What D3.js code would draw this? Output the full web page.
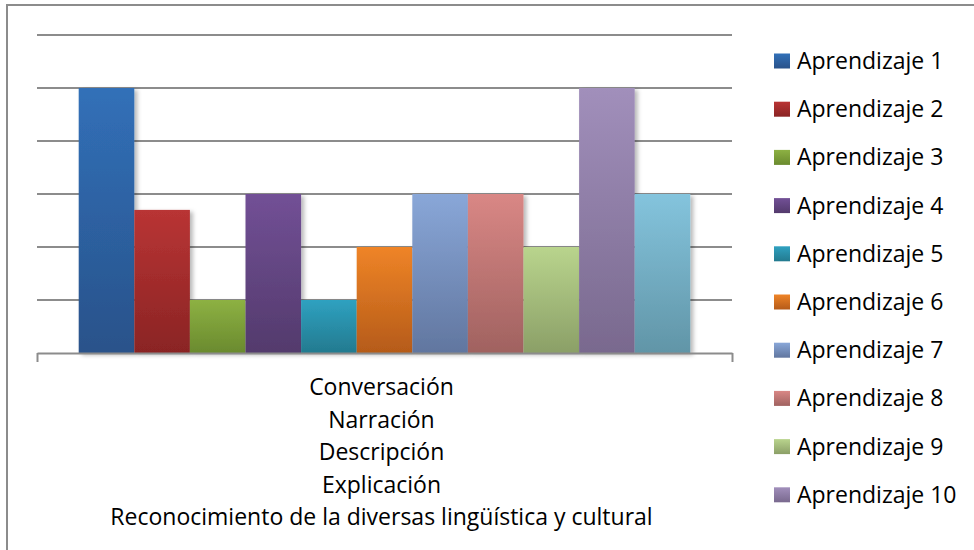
<!DOCTYPE html>
<html>
<head>
<meta charset="utf-8">
<script src="https://cdn.jsdelivr.net/npm/d3@7"></script>
<style>
  html, body { margin: 0; padding: 0; background: #fff; }
  svg text { font-family: "Open Sans", Lato, sans-serif; fill: #000; }
</style>
</head>
<body>
<div id="chart"></div>
<script>
// Category label (one category, text spread over several lines)
const categoryLines = [
    'Conversación',
    'Narración',
    'Descripción',
    'Explicación',
    'Reconocimiento de la diversas lingüística y cultural'
];

const seriesNames = [
    'Aprendizaje 1', 'Aprendizaje 2', 'Aprendizaje 3', 'Aprendizaje 4',
    'Aprendizaje 5', 'Aprendizaje 6', 'Aprendizaje 7', 'Aprendizaje 8',
    'Aprendizaje 9', 'Aprendizaje 10', 'Aprendizaje 11'
];
const seriesValues = [5, 2.7, 1, 3, 1, 2, 3, 3, 2, 5, 3];

// top / bottom colour of each bar gradient
const colorTop = ['#3170b8', '#b93434', '#8db143', '#725096', '#2fa1c0', '#ef8427',
                  '#89a7d8', '#d98785', '#b9d48d', '#a18fbb', '#84c4dd'];
const colorBottom = ['#29528a', '#8a2424', '#6a8a2e', '#533a6c', '#237a8f', '#b55b19',
                     '#61769f', '#a06260', '#8b9f67', '#79698e', '#6195a7'];

const yTicks = [1, 2, 3, 4, 5, 6];
const legendCount = 10; // last entry is cut off in the original

const W = 974, H = 550;
const plot = { left: 37, right: 732, top: 35, bottom: 353 };

const svg = d3.select('#chart').append('svg')
    .attr('width', W)
    .attr('height', H);

const defs = svg.append('defs');

seriesNames.forEach((name, i) => {
    const g = defs.append('linearGradient')
        .attr('id', 'grad' + i)
        .attr('x1', '0%').attr('y1', '0%')
        .attr('x2', '0%').attr('y2', '100%');
    g.append('stop').attr('offset', '0%').attr('stop-color', colorTop[i]);
    g.append('stop').attr('offset', '100%').attr('stop-color', colorBottom[i]);
});

const shadow = defs.append('filter')
    .attr('id', 'shadow')
    .attr('x', '-20%').attr('y', '-20%')
    .attr('width', '150%').attr('height', '150%');
shadow.append('feDropShadow')
    .attr('dx', 3).attr('dy', 2)
    .attr('stdDeviation', 2)
    .attr('flood-color', '#000')
    .attr('flood-opacity', 0.28);

// Outer frame (top and left edges visible)
svg.append('path')
    .attr('d', `M7,${H} L7,5 L${W},5`)
    .attr('fill', 'none')
    .attr('stroke', '#8c8c8c')
    .attr('stroke-width', 2);

const x = d3.scaleBand()
    .domain(seriesNames)
    .range([plot.left, plot.right])
    .paddingInner(0)
    .paddingOuter(0.75);

const y = d3.scaleLinear()
    .domain([0, 6])
    .range([plot.bottom, plot.top]);

// Gridlines
svg.append('g')
    .selectAll('line')
    .data(yTicks)
    .join('line')
    .attr('x1', plot.left)
    .attr('x2', plot.right)
    .attr('y1', d => y(d))
    .attr('y2', d => y(d))
    .attr('stroke', '#8c8c8c')
    .attr('stroke-width', 2);

// Bars
svg.append('g')
    .selectAll('rect')
    .data(seriesValues)
    .join('rect')
    .attr('x', (d, i) => x(seriesNames[i]))
    .attr('width', x.bandwidth())
    .attr('y', d => y(d))
    .attr('height', d => y(0) - y(d))
    .attr('fill', (d, i) => `url(#grad${i})`)
    .attr('filter', 'url(#shadow)');

// X axis (baseline with outer ticks)
const xAxis = svg.append('g')
    .attr('transform', `translate(0,${plot.bottom})`)
    .call(d3.axisBottom(d3.scaleLinear().domain([0, 1]).range([plot.left, plot.right]))
        .tickValues([0, 1]).tickFormat('').tickSize(9).tickSizeOuter(0));
xAxis.select('.domain').attr('stroke', '#8c8c8c').attr('stroke-width', 2);
xAxis.selectAll('.tick line').attr('stroke', '#8c8c8c').attr('stroke-width', 2);

// Category label
const cx = (plot.left + plot.right) / 2 - 3;
svg.append('g')
    .selectAll('text')
    .data(categoryLines)
    .join('text')
    .attr('x', cx)
    .attr('y', (d, i) => 395 + i * 32.5)
    .attr('text-anchor', 'middle')
    .attr('font-size', '23px')
    .text(d => d);

// Legend
const legend = svg.append('g');
const legendItems = legend.selectAll('g')
    .data(seriesNames.slice(0, legendCount))
    .join('g')
    .attr('transform', (d, i) => `translate(774,${61 + i * 48.2})`);

legendItems.append('rect')
    .attr('x', 0)
    .attr('y', -7.5)
    .attr('width', 16)
    .attr('height', 15)
    .attr('fill', (d, i) => `url(#grad${i})`);

legendItems.append('text')
    .attr('x', 23)
    .attr('y', 8)
    .attr('font-size', '23px')
    .text(d => d);
</script>
</body>
</html>
